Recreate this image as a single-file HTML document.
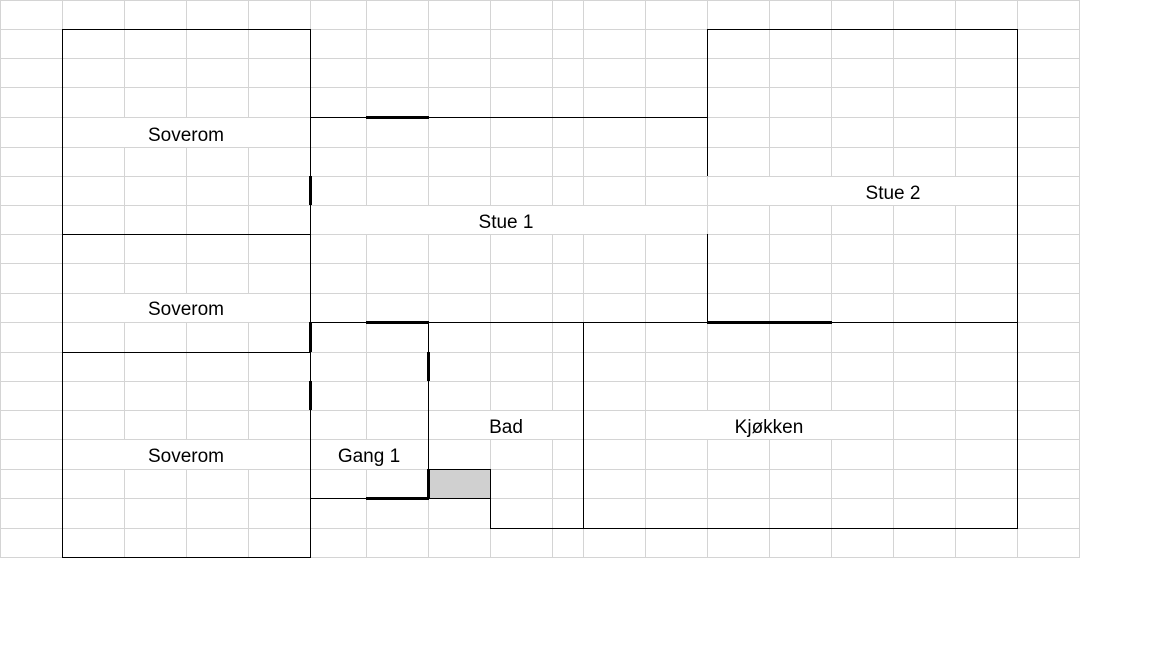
<!DOCTYPE html>
<html><head><meta charset="utf-8"><style>
html,body{margin:0;padding:0;background:#fff;}
svg{display:block;}
text{font-family:"Liberation Sans",sans-serif;font-size:19px;fill:#000;}
</style></head><body>
<svg width="1152" height="648" viewBox="0 0 1152 648" xmlns="http://www.w3.org/2000/svg">
<g stroke="#d4d4d4" stroke-width="1" shape-rendering="crispEdges">
<line x1="0.5" y1="0" x2="0.5" y2="557"/>
<line x1="62.5" y1="0" x2="62.5" y2="557"/>
<line x1="124.5" y1="0" x2="124.5" y2="557"/>
<line x1="186.5" y1="0" x2="186.5" y2="557"/>
<line x1="248.5" y1="0" x2="248.5" y2="557"/>
<line x1="310.5" y1="0" x2="310.5" y2="557"/>
<line x1="366.5" y1="0" x2="366.5" y2="557"/>
<line x1="428.5" y1="0" x2="428.5" y2="557"/>
<line x1="490.5" y1="0" x2="490.5" y2="557"/>
<line x1="552.5" y1="0" x2="552.5" y2="557"/>
<line x1="583.5" y1="0" x2="583.5" y2="557"/>
<line x1="645.5" y1="0" x2="645.5" y2="557"/>
<line x1="707.5" y1="0" x2="707.5" y2="557"/>
<line x1="769.5" y1="0" x2="769.5" y2="557"/>
<line x1="831.5" y1="0" x2="831.5" y2="557"/>
<line x1="893.5" y1="0" x2="893.5" y2="557"/>
<line x1="955.5" y1="0" x2="955.5" y2="557"/>
<line x1="1017.5" y1="0" x2="1017.5" y2="557"/>
<line x1="1079.5" y1="0" x2="1079.5" y2="557"/>
<line x1="0" y1="0.5" x2="1080" y2="0.5"/>
<line x1="0" y1="29.5" x2="1080" y2="29.5"/>
<line x1="0" y1="58.5" x2="1080" y2="58.5"/>
<line x1="0" y1="87.5" x2="1080" y2="87.5"/>
<line x1="0" y1="117.5" x2="1080" y2="117.5"/>
<line x1="0" y1="147.5" x2="1080" y2="147.5"/>
<line x1="0" y1="176.5" x2="1080" y2="176.5"/>
<line x1="0" y1="205.5" x2="1080" y2="205.5"/>
<line x1="0" y1="234.5" x2="1080" y2="234.5"/>
<line x1="0" y1="263.5" x2="1080" y2="263.5"/>
<line x1="0" y1="293.5" x2="1080" y2="293.5"/>
<line x1="0" y1="322.5" x2="1080" y2="322.5"/>
<line x1="0" y1="352.5" x2="1080" y2="352.5"/>
<line x1="0" y1="381.5" x2="1080" y2="381.5"/>
<line x1="0" y1="410.5" x2="1080" y2="410.5"/>
<line x1="0" y1="439.5" x2="1080" y2="439.5"/>
<line x1="0" y1="469.5" x2="1080" y2="469.5"/>
<line x1="0" y1="498.5" x2="1080" y2="498.5"/>
<line x1="0" y1="528.5" x2="1080" y2="528.5"/>
<line x1="0" y1="557.5" x2="1080" y2="557.5"/>
</g>
<g fill="#fff">
<rect x="63" y="118" width="247" height="29"/>
<rect x="63" y="294" width="247" height="28"/>
<rect x="63" y="440" width="247" height="29"/>
<rect x="311" y="206" width="396" height="28"/>
<rect x="708" y="177" width="309" height="28"/>
<rect x="311" y="440" width="117" height="29"/>
<rect x="429" y="411" width="154" height="28"/>
<rect x="646" y="411" width="247" height="28"/>
</g>
<rect x="428.5" y="469.5" width="62" height="29" fill="#d0d0d0" stroke="#000"/>
<g stroke="#000" stroke-width="1" fill="none" shape-rendering="crispEdges">
<rect x="62.5" y="29.5" width="248" height="528"/>
<line x1="62" y1="234.5" x2="310" y2="234.5"/>
<line x1="62" y1="352.5" x2="310" y2="352.5"/>
<line x1="310" y1="117.5" x2="708" y2="117.5"/>
<polyline points="707.5,176 707.5,29.5 1017.5,29.5 1017.5,528.5 490.5,528.5 490.5,498"/>
<line x1="707.5" y1="234" x2="707.5" y2="322"/>
<line x1="310" y1="322.5" x2="1018" y2="322.5"/>
<line x1="428.5" y1="322" x2="428.5" y2="499"/>
<line x1="310" y1="498.5" x2="429" y2="498.5"/>
<line x1="583.5" y1="322" x2="583.5" y2="528"/>
</g>
<g stroke="#000" stroke-width="3" shape-rendering="crispEdges">
<line x1="366" y1="117.5" x2="429" y2="117.5"/>
<line x1="310.5" y1="176" x2="310.5" y2="205"/>
<line x1="310.5" y1="322" x2="310.5" y2="352"/>
<line x1="310.5" y1="381" x2="310.5" y2="410"/>
<line x1="366" y1="322.5" x2="429" y2="322.5"/>
<line x1="707" y1="322.5" x2="832" y2="322.5"/>
<line x1="428.5" y1="352" x2="428.5" y2="381"/>
<line x1="428.5" y1="469" x2="428.5" y2="499"/>
<line x1="366" y1="498.5" x2="429" y2="498.5"/>
</g>
<g text-anchor="middle">
<text x="186" y="141">Soverom</text>
<text x="186" y="315">Soverom</text>
<text x="186" y="462">Soverom</text>
<text x="506" y="228">Stue 1</text>
<text x="893" y="199">Stue 2</text>
<text x="369" y="462">Gang 1</text>
<text x="506" y="433">Bad</text>
<text x="769" y="433">Kjøkken</text>
</g>
</svg>
</body></html>
